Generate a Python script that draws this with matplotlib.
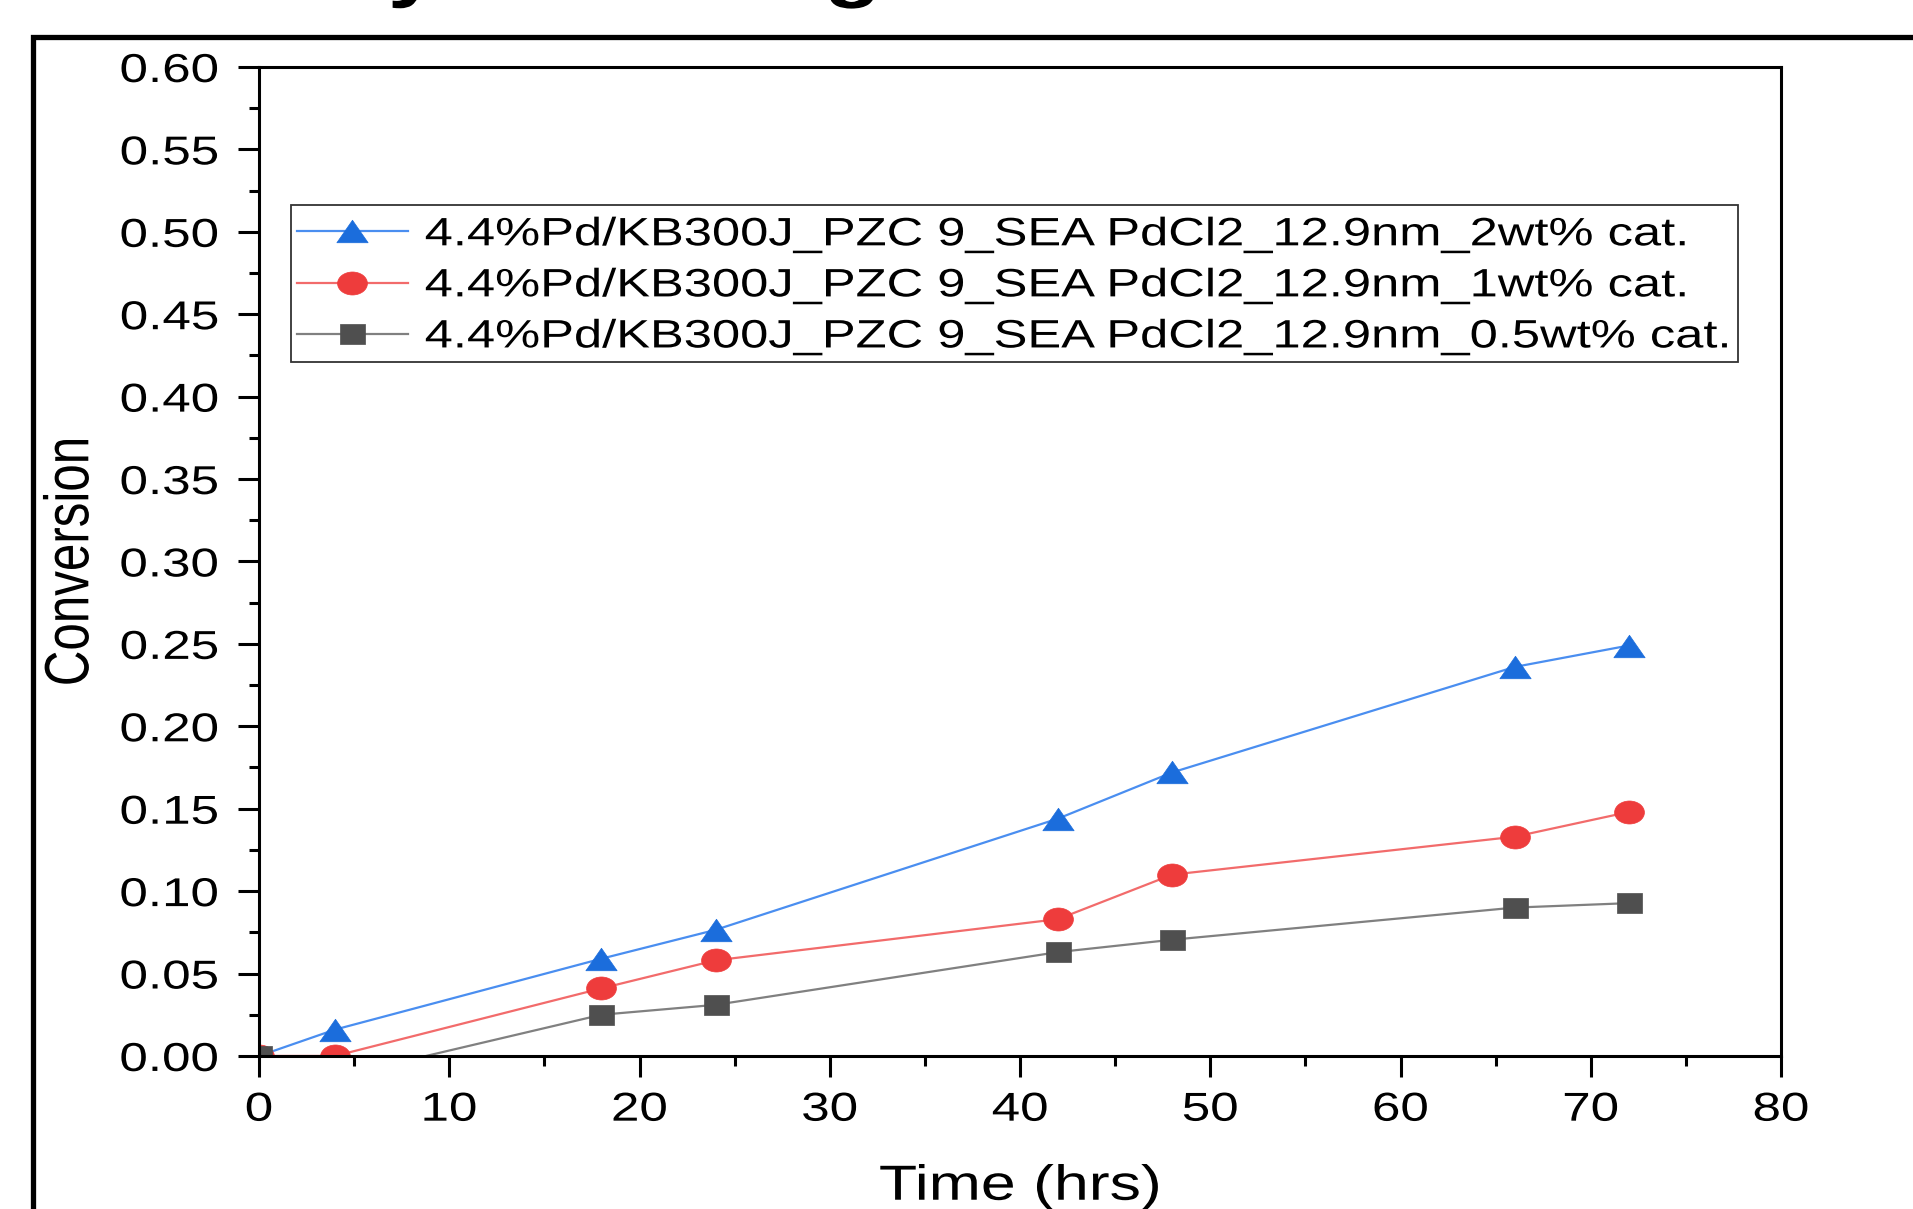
import numpy as np
import matplotlib
matplotlib.use("Agg")
import matplotlib.pyplot as plt
from matplotlib.patches import Rectangle
from matplotlib.path import Path
from matplotlib.transforms import Affine2D
from matplotlib.patheffects import AbstractPathEffect
from matplotlib.ticker import AutoMinorLocator, FormatStrFormatter

plt.rcParams['font.family'] = ['Liberation Sans', 'DejaVu Sans']

# reaction time (hrs) and conversion for the three catalyst loadings
time_hrs = [0, 4, 18, 24, 42, 48, 66, 72]
conv_2wt = [0.0, 0.016, 0.059, 0.0765, 0.144, 0.172, 0.236, 0.249]
conv_1wt = [0.0, 0.0, 0.041, 0.058, 0.083, 0.110, 0.133, 0.148]
conv_05wt = [0.0, -0.013, 0.025, 0.031, 0.063, 0.0705, 0.090, 0.0927]
labels = ['4.4%Pd/KB300J_PZC 9_SEA PdCl2_12.9nm_2wt% cat.',
          '4.4%Pd/KB300J_PZC 9_SEA PdCl2_12.9nm_1wt% cat.',
          '4.4%Pd/KB300J_PZC 9_SEA PdCl2_12.9nm_0.5wt% cat.']
xticks = np.arange(0, 81, 10)
yticks = np.arange(0, 0.601, 0.05)

SX = 1.27  # horizontal widening of the lettering


class HStretch(AbstractPathEffect):
    # widen text horizontally about its left / centre / right edge
    def __init__(self, anchor='center', sx=SX):
        super().__init__()
        self.anchor = anchor
        self.sx = sx

    def draw_path(self, renderer, gc, tpath, affine, rgbFace=None):
        ext = tpath.get_extents(affine)
        x0 = {'left': ext.x0, 'center': 0.5 * (ext.x0 + ext.x1), 'right': ext.x1}[self.anchor]
        st = Affine2D().translate(-x0, 0).scale(self.sx, 1).translate(x0, 0)
        renderer.draw_path(gc, tpath, affine + st, rgbFace)


# slightly wide markers
tri = Path([(-1, -0.72), (1, -0.72), (0, 0.72), (-1, -0.72)],
           [Path.MOVETO, Path.LINETO, Path.LINETO, Path.CLOSEPOLY])
ell = Path.unit_circle().transformed(Affine2D().scale(1, 0.77))
sq = Path([(-1, -0.8), (1, -0.8), (1, 0.8), (-1, 0.8), (-1, -0.8)],
          [Path.MOVETO, Path.LINETO, Path.LINETO, Path.LINETO, Path.CLOSEPOLY])

fig = plt.figure(figsize=(19.13, 12.09), dpi=100)
ax = fig.add_axes([0.1354, 0.1266, 0.7956, 0.8180])

h1, = ax.plot(time_hrs, conv_2wt, color='#4a8ef0', lw=1.6, marker=tri, ms=22.5,
              mfc='#1b6ddc', mec='#1b6ddc', mew=0.5)
h2, = ax.plot(time_hrs, conv_1wt, color='#f26b6b', lw=1.6, marker=ell, ms=21.5,
              mfc='#ee3c3c', mec='#ee3c3c', mew=0.5)
h3, = ax.plot(time_hrs, conv_05wt, color='#808080', lw=1.6, marker=sq, ms=18,
              mfc='#4f4f4f', mec='#4f4f4f', mew=0.5)

ax.set_xlim(0, 80)
ax.set_ylim(0, 0.60)
ax.set_xticks(xticks)
ax.set_yticks(yticks)
ax.yaxis.set_major_formatter(FormatStrFormatter('%.2f'))
ax.xaxis.set_minor_locator(AutoMinorLocator(2))
ax.yaxis.set_minor_locator(AutoMinorLocator(2))
ax.tick_params(which='both', direction='out', width=2.2, top=False, right=False)
ax.tick_params(which='major', length=15, labelsize=29)
ax.tick_params(which='minor', length=7)
ax.tick_params(axis='y', which='major', pad=14)
ax.tick_params(axis='x', which='major', pad=10)
for sp in ax.spines.values():
    sp.set_linewidth(2.2)

for lbl in ax.get_xticklabels():
    lbl.set_path_effects([HStretch('center')])
for lbl in ax.get_yticklabels():
    lbl.set_path_effects([HStretch('right')])

ax.set_xlabel('Time (hrs)', fontsize=35.5)
ax.set_ylabel('Conversion', fontsize=35.5)
ax.xaxis.label.set(va='top')
ax.xaxis.set_label_coords(0.5, -0.110)
ax.yaxis.label.set(rotation_mode='default', va='center', ha='center')
ax.yaxis.set_label_coords(-0.1235, 0.5)
ax.xaxis.label.set_path_effects([HStretch('center')])
ax.yaxis.label.set_path_effects([HStretch('center')])

leg = ax.legend([h1, h2, h3], labels, loc='upper left', bbox_to_anchor=(0.025, 0.850),
                frameon=False, fontsize=28.5, borderpad=0, borderaxespad=0,
                handlelength=2.8, handletextpad=0.43, labelspacing=0.33)
for t in leg.get_texts():
    t.set_path_effects([HStretch('left', 1.28)])
ax.add_patch(Rectangle((0.021, 0.702), 0.951, 0.158, transform=ax.transAxes,
                       fill=False, ec='#333333', lw=1.3, zorder=5))

# outer slide frame and the title sitting above it
fig.add_artist(Rectangle((33 / 1913, -0.05), 1.1, 1 - 37 / 1209 + 0.05,
                         transform=fig.transFigure, fill=False, ec='black', lw=3.8))
ttl = fig.text(160 / 1913, 1.0058, 'Catalyst loading', fontsize=53, fontweight='bold',
               va='baseline', ha='left')
ttl.set_path_effects([HStretch('left')])

fig.savefig('out.png', dpi=100)
